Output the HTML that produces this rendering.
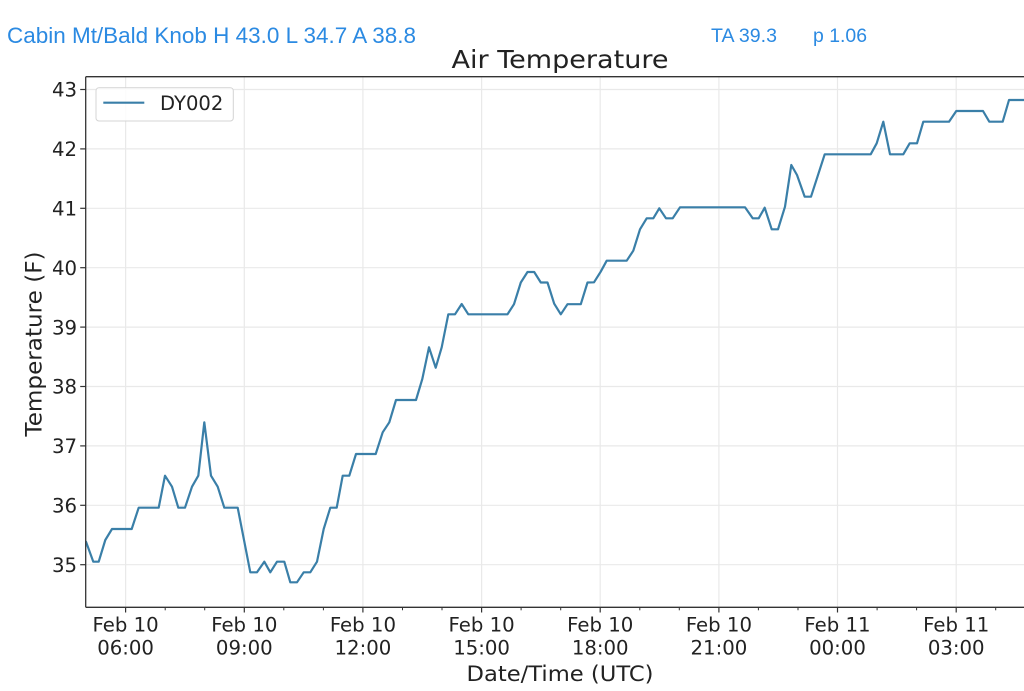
<!DOCTYPE html>
<html>
<head>
<meta charset="utf-8">
<style>
  html, body { margin: 0; padding: 0; background: #ffffff; }
  svg { display: block; }
</style>
</head>
<body>
<svg width="1024" height="691" viewBox="0 0 1024 691" xmlns="http://www.w3.org/2000/svg">
  <rect x="0" y="0" width="1024" height="691" fill="#ffffff"/>

  <!-- Header -->
  <g font-family="Liberation Sans, Arial, sans-serif" font-size="22" fill="#2b8ae2">
    <text x="7" y="43" textLength="409" lengthAdjust="spacingAndGlyphs">Cabin Mt/Bald Knob H 43.0 L 34.7 A 38.8</text>
    <text x="711" y="42" font-size="19" textLength="66" lengthAdjust="spacingAndGlyphs">TA 39.3</text>
    <text x="813" y="42" font-size="19" textLength="54" lengthAdjust="spacingAndGlyphs">p 1.06</text>
  </g>

  <!-- Title -->
  <text x="560" y="68" text-anchor="middle" font-family="DejaVu Sans, sans-serif" font-size="25" fill="#222" textLength="217" lengthAdjust="spacingAndGlyphs">Air Temperature</text>

  <defs>
    <clipPath id="ax">
      <rect x="85.7" y="76.7" width="948.3" height="530.6"/>
    </clipPath>
  </defs>

  <!-- Grid -->
  <g stroke="#e9e9e9" stroke-width="1.2" clip-path="url(#ax)">
    <line x1="125.6" y1="76.7" x2="125.6" y2="607.3"/>
    <line x1="244.3" y1="76.7" x2="244.3" y2="607.3"/>
    <line x1="362.9" y1="76.7" x2="362.9" y2="607.3"/>
    <line x1="481.6" y1="76.7" x2="481.6" y2="607.3"/>
    <line x1="600.2" y1="76.7" x2="600.2" y2="607.3"/>
    <line x1="718.9" y1="76.7" x2="718.9" y2="607.3"/>
    <line x1="837.5" y1="76.7" x2="837.5" y2="607.3"/>
    <line x1="956.2" y1="76.7" x2="956.2" y2="607.3"/>

    <line x1="85.7" y1="564.7" x2="1034" y2="564.7"/>
    <line x1="85.7" y1="505.3" x2="1034" y2="505.3"/>
    <line x1="85.7" y1="445.9" x2="1034" y2="445.9"/>
    <line x1="85.7" y1="386.5" x2="1034" y2="386.5"/>
    <line x1="85.7" y1="327.1" x2="1034" y2="327.1"/>
    <line x1="85.7" y1="267.7" x2="1034" y2="267.7"/>
    <line x1="85.7" y1="208.3" x2="1034" y2="208.3"/>
    <line x1="85.7" y1="148.9" x2="1034" y2="148.9"/>
    <line x1="85.7" y1="89.5" x2="1034" y2="89.5"/>
  </g>

  <!-- Data line -->
  <polyline clip-path="url(#ax)" fill="none" stroke="#3a7fa8" stroke-width="2.2" stroke-linejoin="round" stroke-linecap="round"
    points="86,541.7 93.3,561.7 98.7,561.7 105.3,540 112,529 131.7,529 138.7,507.7 158.7,507.7 165,475.7 172,486.7 178.3,507.7 185,507.7 192,486.7 198.3,475.7 204.3,422.3 211,475.7 217.7,486.7 224.3,507.7 237.7,507.7 250.3,572.3 257,572.3 264.3,561.7 270.3,572.3 277,561.7 284.3,561.7 290.3,582.3 297,582.3 303.7,572.3 310.3,572.3 317,561.7 323.7,529 330.3,507.7 336.7,507.7 342.7,475.7 349.3,475.7 356,454 375.7,454 382.7,432.3 389.3,422.3 396,400 416,400 422.3,379 429,347.3 435.7,367.7 441.7,347.3 448.3,314.3 455,314.3 461.7,304 468.3,314.3 507.5,314.3 514,304.2 520.8,282.5 527.5,272 534.2,272 540.8,282.5 547.5,282.5 554.2,303.7 560.8,314.3 567.5,304.2 580.8,304.2 587.5,282.5 594,282.3 600.7,271.7 606.7,260.7 626.7,260.7 633.3,250.7 640,229.3 646.7,218.3 653.3,218.3 659.3,208.3 666,218.3 672.7,218.3 680,207.3 745,207.3 752.7,218.3 758.7,218.3 764.7,207.7 771.7,229.3 778,229.3 785,206.7 791.3,165 797,175 804.7,196.7 811,196.7 824.7,154.3 870.7,154.3 876.7,143.3 883.3,121.7 890,154.3 903.3,154.3 909.7,143.3 917,143.3 923.3,121.7 949,121.7 956.3,111 983,111 989.3,121.7 1002.7,121.7 1009,100 1034,100"/>

  <!-- Spines -->
  <g stroke="#333" stroke-width="1.3" fill="none">
    <line x1="85.7" y1="76.7" x2="1034" y2="76.7"/>
    <line x1="85.7" y1="607.3" x2="1034" y2="607.3"/>
    <line x1="85.7" y1="76.7" x2="85.7" y2="607.3"/>
  </g>

  <!-- Y ticks -->
  <g stroke="#333" stroke-width="1.2">
    <line x1="80.2" y1="564.7" x2="85.7" y2="564.7"/>
    <line x1="80.2" y1="505.3" x2="85.7" y2="505.3"/>
    <line x1="80.2" y1="445.9" x2="85.7" y2="445.9"/>
    <line x1="80.2" y1="386.5" x2="85.7" y2="386.5"/>
    <line x1="80.2" y1="327.1" x2="85.7" y2="327.1"/>
    <line x1="80.2" y1="267.7" x2="85.7" y2="267.7"/>
    <line x1="80.2" y1="208.3" x2="85.7" y2="208.3"/>
    <line x1="80.2" y1="148.9" x2="85.7" y2="148.9"/>
    <line x1="80.2" y1="89.5" x2="85.7" y2="89.5"/>
  </g>
  <g font-family="DejaVu Sans, sans-serif" font-size="19.7" fill="#222" text-anchor="end">
    <text x="77" y="571.9">35</text>
    <text x="77" y="512.5">36</text>
    <text x="77" y="453.1">37</text>
    <text x="77" y="393.7">38</text>
    <text x="77" y="334.3">39</text>
    <text x="77" y="274.9">40</text>
    <text x="77" y="215.5">41</text>
    <text x="77" y="156.1">42</text>
    <text x="77" y="96.7">43</text>
  </g>

  <!-- X ticks (major) -->
  <g stroke="#333" stroke-width="1.2">
    <line x1="125.6" y1="607.3" x2="125.6" y2="612.5"/>
    <line x1="244.3" y1="607.3" x2="244.3" y2="612.5"/>
    <line x1="362.9" y1="607.3" x2="362.9" y2="612.5"/>
    <line x1="481.6" y1="607.3" x2="481.6" y2="612.5"/>
    <line x1="600.2" y1="607.3" x2="600.2" y2="612.5"/>
    <line x1="718.9" y1="607.3" x2="718.9" y2="612.5"/>
    <line x1="837.5" y1="607.3" x2="837.5" y2="612.5"/>
    <line x1="956.2" y1="607.3" x2="956.2" y2="612.5"/>
  </g>
  <!-- X ticks (minor) -->
  <g stroke="#333" stroke-width="1">
    <line x1="165.2" y1="607.3" x2="165.2" y2="610.3"/>
    <line x1="204.7" y1="607.3" x2="204.7" y2="610.3"/>
    <line x1="283.8" y1="607.3" x2="283.8" y2="610.3"/>
    <line x1="323.4" y1="607.3" x2="323.4" y2="610.3"/>
    <line x1="402.5" y1="607.3" x2="402.5" y2="610.3"/>
    <line x1="442.0" y1="607.3" x2="442.0" y2="610.3"/>
    <line x1="521.1" y1="607.3" x2="521.1" y2="610.3"/>
    <line x1="560.7" y1="607.3" x2="560.7" y2="610.3"/>
    <line x1="639.8" y1="607.3" x2="639.8" y2="610.3"/>
    <line x1="679.3" y1="607.3" x2="679.3" y2="610.3"/>
    <line x1="758.4" y1="607.3" x2="758.4" y2="610.3"/>
    <line x1="798.0" y1="607.3" x2="798.0" y2="610.3"/>
    <line x1="877.1" y1="607.3" x2="877.1" y2="610.3"/>
    <line x1="916.6" y1="607.3" x2="916.6" y2="610.3"/>
    <line x1="995.7" y1="607.3" x2="995.7" y2="610.3"/>
  </g>
  <g font-family="DejaVu Sans, sans-serif" font-size="19.7" fill="#222" text-anchor="middle">
    <text x="125.6" y="631.7">Feb 10</text><text x="125.6" y="654.3">06:00</text>
    <text x="244.3" y="631.7">Feb 10</text><text x="244.3" y="654.3">09:00</text>
    <text x="362.9" y="631.7">Feb 10</text><text x="362.9" y="654.3">12:00</text>
    <text x="481.6" y="631.7">Feb 10</text><text x="481.6" y="654.3">15:00</text>
    <text x="600.2" y="631.7">Feb 10</text><text x="600.2" y="654.3">18:00</text>
    <text x="718.9" y="631.7">Feb 10</text><text x="718.9" y="654.3">21:00</text>
    <text x="837.5" y="631.7">Feb 11</text><text x="837.5" y="654.3">00:00</text>
    <text x="956.2" y="631.7">Feb 11</text><text x="956.2" y="654.3">03:00</text>
  </g>

  <!-- Axis labels -->
  <text x="560" y="681" text-anchor="middle" font-family="DejaVu Sans, sans-serif" font-size="21.5" fill="#222" textLength="187" lengthAdjust="spacingAndGlyphs">Date/Time (UTC)</text>
  <text transform="translate(41.5,344) rotate(-90)" text-anchor="middle" font-family="DejaVu Sans, sans-serif" font-size="22" fill="#222" textLength="185" lengthAdjust="spacingAndGlyphs">Temperature (F)</text>

  <!-- Legend -->
  <rect x="96" y="87.7" width="137.3" height="33.3" rx="3" ry="3" fill="#ffffff" fill-opacity="0.85" stroke="#d4d4d4" stroke-width="1"/>
  <line x1="103.3" y1="102.7" x2="144.3" y2="102.7" stroke="#3a7fa8" stroke-width="2.2"/>
  <text x="160" y="110" font-family="DejaVu Sans, sans-serif" font-size="19.6" fill="#222" textLength="63.3" lengthAdjust="spacingAndGlyphs">DY002</text>
</svg>
</body>
</html>
